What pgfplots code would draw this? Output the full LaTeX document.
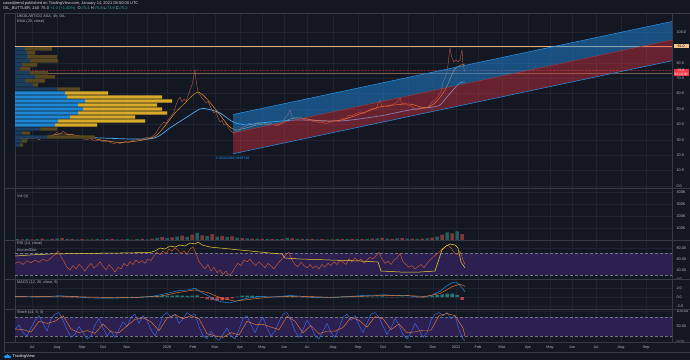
\documentclass[border=0pt]{standalone}
\usepackage{pgfplots}
\pgfplotsset{compat=1.18}
\usepackage{fontspec}
\setmainfont{Liberation Sans}
\definecolor{bg}{HTML}{131722}
\definecolor{gridc}{HTML}{1F2330}
\definecolor{bord}{HTML}{363A45}
\definecolor{txt}{HTML}{B2B5BE}
\definecolor{chblue}{HTML}{2196F3}
\definecolor{chred}{HTML}{F23645}
\definecolor{lnblue}{HTML}{2196F3}
\definecolor{ema}{HTML}{F0962C}
\definecolor{price}{HTML}{C8604A}
\definecolor{vpb}{HTML}{1E88D6}
\definecolor{vpy}{HTML}{D9A928}
\definecolor{vpbd}{HTML}{1B3D5E}
\definecolor{vpyd}{HTML}{564720}
\definecolor{teal}{HTML}{26A69A}
\definecolor{redc}{HTML}{EF5350}
\definecolor{purp}{HTML}{2C2050}
\definecolor{rsi}{HTML}{E0602E}
\definecolor{ad}{HTML}{F2D230}
\definecolor{orline}{HTML}{E3AE78}
\definecolor{orbox}{HTML}{F5C38C}
\definecolor{redbox}{HTML}{F23645}
\definecolor{kblue}{HTML}{3F6AF0}
\definecolor{dorange}{HTML}{F07A30}
\pgfplotsset{
  pane/.style={scale only axis, width=657pt, anchor=south west,
    xmin=15, xmax=672,
    axis line style={draw=bord, line width=0.5pt},
    major tick length=0pt,
    xtick={32,57,82,103,127,147,167,193,215,240,262,284,307,333,358,383,408,433,456,478,502,528,550,572,596,621,646},
    xticklabels={},
    xmajorgrids, ymajorgrids,
    grid style={draw=gridc, line width=0.45pt},
    yticklabel pos=right,
    ticklabel style={text=txt, font=\fontsize{3.8}{4}\selectfont},
    yticklabel style={xshift=1pt},
  },
  ov/.style={scale only axis, width=657pt, anchor=south west, axis lines=none, ticks=none},
}
\begin{document}
\begin{tikzpicture}[x=1pt,y=1pt]
\useasboundingbox (0,0) rectangle (690,360);
\fill[bg] (0,0) rectangle (690,360);

% ---------------- main price pane ----------------
\begin{axis}[pane, at={(15pt,172pt)}, height=175pt, ymin=-1.3, ymax=112.3,
  ytick={0,10,20,30,40,50,60,70,80,90,100},
  yticklabels={0.0,10.0,20.0,30.0,40.0,50.0,60.0,70.0,80.0,90.0,100.0}]
% horizontal lines
\addplot[orline, line width=0.6pt] coordinates {(15,90.9) (672,90.9)};
\addplot[orline!50!bg, line width=0.4pt] coordinates {(15,73.4) (672,73.4)};
\addplot[redbox!45!bg, densely dotted, line width=0.4pt] coordinates {(15,75.3) (672,75.3)};
% blue long EMA
\addplot[lnblue!80!white, line width=0.7pt, smooth] coordinates {(15,31.2) (40,31.6) (67,31.8) (100,31.2) (133,30.5) (155,31.2) (170,37.7) (187,44.8) (200,50.0) (207,50.0) (220,47.4) (233,41.6) (247,39.6) (260,40.9) (300,42.9) (340,42.2) (380,45.5) (410,49.4) (433,51.3) (440,52.6) (447,57.8) (453,62.3) (460,66.9) (465,67.5)};
% price
\addplot[price, line width=0.35pt] coordinates {(15,31.2) (18,32.5) (21,30.5) (24,31.8) (27,30.2) (30,32.0) (33,30.8) (36,31.5) (39,30.0) (42,31.9) (45,31.0) (48,32.6) (51,31.8) (54,33.5) (57,34.8) (60,33.6) (63,35.5) (66,34.2) (69,33.0) (72,33.8) (75,32.4) (78,31.5) (81,32.2) (84,30.4) (87,30.0) (90,30.9) (93,29.6) (96,29.2) (99,30.0) (102,29.0) (105,28.6) (108,29.3) (111,28.0) (114,27.5) (117,28.2) (120,27.6) (123,28.4) (126,28.9) (129,28.3) (132,29.4) (135,29.9) (138,30.4) (141,29.8) (144,31.0) (147,31.6) (150,31.2) (153,32.6) (156,34.4) (159,37.7) (162,40.3) (164,41.6) (166,40.5) (168,42.9) (170,44.5) (172,46.1) (174,48.1) (176,52.6) (178,55.8) (180,57.8) (182,54.5) (184,56.5) (186,55.2) (188,58.4) (190,62.3) (192,65.6) (194,72.1) (195,75.3) (196,68.8) (198,61.0) (200,59.1) (202,57.0) (204,55.8) (206,53.9) (208,54.8) (210,52.0) (212,49.4) (214,47.4) (216,48.5) (218,44.2) (220,41.6) (222,42.5) (224,39.6) (226,40.5) (228,38.3) (230,36.4) (232,35.1) (234,34.2) (236,36.0) (238,35.1) (240,37.0) (243,38.3) (246,39.0) (249,40.9) (252,40.3) (255,39.6) (258,41.6) (261,40.3) (264,41.0) (267,39.6) (270,40.9) (273,40.0) (276,39.0) (279,39.6) (282,41.0) (285,44.2) (288,46.5) (290,49.4) (292,45.0) (295,44.2) (298,43.0) (301,44.2) (304,42.9) (307,42.2) (310,42.9) (313,41.6) (316,42.0) (319,41.0) (322,41.6) (325,40.3) (328,40.9) (331,41.6) (334,42.9) (337,42.2) (340,42.9) (343,44.2) (346,43.5) (349,46.1) (352,45.5) (355,46.8) (358,47.4) (361,48.1) (364,47.0) (367,48.7) (370,49.4) (373,50.6) (376,50.0) (378,53.5) (380,55.8) (382,51.3) (385,51.9) (388,51.3) (391,52.6) (394,53.2) (397,54.5) (400,57.1) (402,53.2) (405,53.9) (408,52.6) (411,51.9) (414,50.6) (417,49.4) (420,50.0) (423,51.3) (426,50.6) (429,51.9) (432,54.5) (435,55.8) (438,58.4) (441,61.0) (443,67.5) (445,70.0) (447,74.0) (448,78.6) (449,84.4) (450,89.6) (451,86.0) (452,83.1) (454,80.5) (456,81.8) (458,80.5) (460,81.8) (461,85.0) (462,88.3) (463,78.6) (464,76.0) (465,74.0)};
% short EMA
\addplot[ema, line width=0.45pt, smooth] coordinates {(15,31.2) (40,31.3) (60,33.8) (80,32.5) (100,30.0) (120,28.3) (140,29.5) (155,32.2) (165,39.0) (175,47.4) (185,53.9) (192,58.4) (198,61.0) (205,57.8) (212,52.6) (220,46.1) (228,39.6) (235,36.4) (245,37.5) (260,40.0) (280,40.3) (290,43.5) (300,44.2) (320,42.2) (340,42.6) (360,46.8) (380,51.3) (395,52.6) (410,53.2) (425,50.8) (435,53.9) (445,62.3) (455,76.0) (465,79.2)};
% regression channel (translucent, drawn over the series)
\addplot[fill=chblue, fill opacity=0.45, draw=none] coordinates {(233,46.4) (672,106.8) (672,94.8) (233,34.4)} -- cycle;
\addplot[fill=chred, fill opacity=0.38, draw=none] coordinates {(233,34.4) (672,94.8) (672,81.3) (233,20.9)} -- cycle;
\addplot[lnblue, line width=0.5pt] coordinates {(233,46.4) (672,106.8)};
\addplot[lnblue, line width=0.5pt] coordinates {(233,20.9) (672,81.3)};
\addplot[redc!70!black, line width=0.4pt] coordinates {(233,34.4) (672,94.8)};
\end{axis}

% volume profile overlay
\begin{axis}[ov, at={(15pt,172pt)}, height=175pt, xmin=0, xmax=657, ymin=-1.3, ymax=112.3,
  xbar stacked, bar width=2.2]
\addplot[fill=vpb, draw=none] coordinates {(0,89.0) (0,86.4) (0,83.8) (0,81.2) (0,78.6) (0,76.0) (0,73.4) (0,70.8) (0,68.2) (0,65.6) (0,63.0) (50,60.4) (52,57.8) (70,55.2) (63,52.6) (68,50.0) (63,47.4) (55,44.8) (43,42.2) (40,39.6) (0,37.0) (0,34.4) (0,31.8) (0,29.2) (0,26.6)};
\addplot[fill=vpy, draw=none] coordinates {(0,89.0) (0,86.4) (0,83.8) (0,81.2) (0,78.6) (0,76.0) (0,73.4) (0,70.8) (0,68.2) (0,65.6) (0,63.0) (43,60.4) (95,57.8) (87,55.2) (79,52.6) (79,50.0) (89,47.4) (65,44.8) (87,42.2) (42,39.6) (0,37.0) (0,34.4) (0,31.8) (0,29.2) (0,26.6)};
\addplot[fill=vpbd, draw=none] coordinates {(10,89.0) (12,86.4) (12,83.8) (15,81.2) (7,78.6) (5,76.0) (15,73.4) (20,70.8) (10,68.2) (18,65.6) (42,63.0) (0,60.4) (0,57.8) (0,55.2) (0,52.6) (0,50.0) (0,47.4) (0,44.8) (0,42.2) (0,39.6) (25,37.0) (7,34.4) (32,31.8) (7,29.2) (5,26.6)};
\addplot[fill=vpyd, draw=none] coordinates {(27,89.0) (8,86.4) (30,83.8) (28,81.2) (15,78.6) (10,76.0) (18,73.4) (20,70.8) (20,68.2) (5,65.6) (23,63.0) (0,60.4) (0,57.8) (0,55.2) (0,52.6) (0,50.0) (0,47.4) (0,44.8) (0,42.2) (0,39.6) (17,37.0) (8,34.4) (48,31.8) (5,29.2) (3,26.6)};
\end{axis}

% ---------------- volume pane ----------------
\begin{axis}[pane, at={(15pt,120pt)}, height=52pt, ymin=0, ymax=433,
  ytick={100,200,300,400}, yticklabels={100K,200K,300K,400K}]
\addplot[ybar, bar width=3.5, bar shift=0pt, fill=teal!50!bg, draw=none] coordinates {(17,8) (27,10) (37,7) (47,6) (57,14) (67,10) (77,6) (87,5) (97,9) (107,7) (117,5) (127,8) (137,7) (147,6) (157,18) (167,16) (177,28) (187,26) (197,60) (207,32) (217,28) (227,24) (237,20) (247,14) (257,11) (267,10) (277,7) (287,16) (297,10) (307,7) (317,6) (327,6) (337,7) (347,9) (357,8) (367,9) (377,14) (387,12) (397,14) (407,12) (417,10) (427,14) (437,28) (447,64) (457,72)};
\addplot[ybar, bar width=3.5, bar shift=0pt, fill=redc!50!bg, draw=none] coordinates {(22,6) (32,5) (42,12) (52,9) (62,16) (72,7) (82,8) (92,6) (102,6) (112,10) (122,6) (132,4) (142,10) (152,12) (162,24) (172,22) (182,36) (192,44) (202,38) (212,48) (222,34) (232,30) (242,16) (252,12) (262,9) (272,8) (282,10) (292,14) (302,8) (312,9) (322,8) (332,6) (342,8) (352,10) (362,7) (372,11) (382,18) (392,10) (402,16) (412,11) (422,12) (432,20) (442,44) (452,56) (462,48)};
\end{axis}

% ---------------- RSI pane ----------------
\begin{axis}[pane, at={(15pt,81pt)}, height=39pt, ymin=23.6, ymax=94.5,
  ytick={40,60,80}, yticklabels={40.00,60.00,80.00}]
\addplot[fill=purp, draw=none] coordinates {(15,30) (672,30) (672,70) (15,70)} -- cycle;
\addplot[txt!60!bg, densely dashed, line width=0.35pt] coordinates {(15,70) (672,70)};
\addplot[txt!60!bg, densely dashed, line width=0.35pt] coordinates {(15,30) (672,30)};
\addplot[rsi, line width=0.4pt] coordinates {(15,52) (19,55) (23,50) (27,57) (31,53) (35,58) (39,54) (43,60) (47,56) (51,62) (55,68) (58,75) (61,64) (64,55) (67,45) (70,40) (73,48) (76,42) (79,50) (82,45) (85,38) (88,46) (91,52) (94,44) (97,48) (100,55) (103,47) (106,40) (109,50) (112,44) (115,36) (118,45) (121,42) (124,52) (127,47) (130,55) (133,50) (136,58) (139,53) (142,57) (145,52) (148,60) (151,57) (154,66) (157,72) (160,68) (163,75) (166,70) (169,78) (172,74) (175,80) (178,76) (181,70) (184,75) (187,68) (190,78) (193,82) (196,70) (199,55) (202,48) (205,42) (208,50) (211,38) (214,45) (217,35) (220,40) (223,32) (226,38) (229,30) (232,35) (235,45) (238,52) (241,48) (244,58) (247,55) (250,60) (253,52) (256,48) (259,55) (262,50) (265,44) (268,52) (271,47) (274,42) (277,50) (280,56) (283,62) (286,68) (289,72) (292,58) (295,50) (298,46) (301,54) (304,48) (307,44) (310,50) (313,43) (316,48) (319,42) (322,50) (325,45) (328,52) (331,48) (334,55) (337,50) (340,58) (343,54) (346,50) (349,60) (352,55) (355,62) (358,56) (361,60) (364,52) (367,58) (370,63) (373,60) (376,66) (379,72) (382,60) (385,52) (388,56) (391,50) (394,58) (397,62) (400,70) (403,55) (406,50) (409,45) (412,48) (415,42) (418,46) (421,50) (424,44) (427,52) (430,58) (433,63) (436,68) (439,72) (442,78) (445,82) (448,85) (451,80) (454,72) (457,68) (460,74) (463,58) (465,50)};
\end{axis}
% A/D overlay with left axis
\begin{axis}[ov, at={(15pt,81pt)}, height=39pt, xmin=15, xmax=672, ymin=-400, ymax=380,
  axis lines*=left, axis line style={draw=none}, ticks=major, xtick=\empty,
  ytick={-400,-200,0,200}, yticklabels={-400K,-200K,0,200K}, major tick length=0pt,
  yticklabel style={text=txt, font=\fontsize{3.3}{4}\selectfont, xshift=1pt}]
\addplot[ad, line width=0.5pt] coordinates {(15,60) (30,80) (50,100) (80,110) (120,120) (150,130) (155,160) (160,220) (165,200) (170,260) (175,240) (180,280) (185,260) (190,320) (195,300) (198,340) (202,280) (210,240) (230,200) (250,160) (270,120) (282,100) (285,20) (300,0) (330,-20) (360,-40) (378,-60) (381,-240) (400,-260) (420,-260) (435,-240) (438,-60) (442,180) (446,260) (450,300) (455,280) (458,220) (461,-60) (465,-180)};
\end{axis}

% ---------------- MACD pane ----------------
\begin{axis}[pane, at={(15pt,51pt)}, height=30pt, ymin=-2.67, ymax=4.05,
  ytick={-2,0,2,4}, yticklabels={-2.0,0.0,2.0,4.0}]
\addplot[ybar, bar width=3.5, bar shift=0pt, fill=teal!70!bg, draw=none] coordinates {(17,0.05) (27,0.06) (32,0.04) (42,0.08) (47,0.1) (52,0.12) (57,0.15) (62,0.1) (117,0.02) (122,0.04) (127,0.06) (132,0.03) (137,0.05) (142,0.08) (147,0.12) (152,0.18) (157,0.25) (162,0.32) (167,0.35) (172,0.3) (177,0.4) (182,0.35) (187,0.25) (192,0.35) (197,0.4) (237,0.1) (242,0.3) (247,0.35) (252,0.3) (257,0.2) (262,0.12) (267,0.05) (272,0.02) (277,0.05) (282,0.12) (287,0.2) (292,0.15) (297,0.05) (332,0.02) (337,0.05) (342,0.08) (347,0.1) (352,0.12) (357,0.1) (362,0.12) (367,0.1) (372,0.08) (377,0.12) (382,0.15) (387,0.05) (397,0.02) (402,0.08) (407,0.02) (427,0.05) (432,0.25) (437,0.45) (442,0.6) (447,0.75) (452,0.8) (457,0.5)};
\addplot[ybar, bar width=3.5, bar shift=0pt, fill=redc!70!bg, draw=none] coordinates {(22,-0.03) (37,-0.05) (67,-0.05) (72,-0.1) (77,-0.12) (82,-0.08) (87,-0.1) (92,-0.06) (97,-0.04) (102,-0.08) (107,-0.05) (112,-0.03) (202,-0.2) (207,-0.5) (212,-0.7) (217,-0.8) (222,-0.75) (227,-0.55) (232,-0.3) (302,-0.05) (307,-0.1) (312,-0.12) (317,-0.1) (322,-0.06) (327,-0.04) (392,-0.05) (412,-0.08) (417,-0.12) (422,-0.1) (462,-0.6)};
\addplot[lnblue, line width=0.45pt] coordinates {(15,0.1) (40,0.05) (60,0.3) (75,0.1) (90,-0.2) (110,-0.25) (130,-0.15) (150,0.1) (160,0.5) (170,1.0) (180,1.5) (188,1.6) (195,2.0) (200,1.2) (208,0.3) (215,-0.6) (222,-1.1) (230,-1.3) (238,-0.8) (248,-0.2) (260,0.1) (275,0.05) (290,0.35) (300,0.2) (315,-0.1) (330,-0.15) (345,0.1) (360,0.3) (375,0.45) (385,0.5) (395,0.35) (405,0.4) (415,0.1) (425,0.0) (432,0.4) (440,1.3) (446,2.4) (452,3.2) (456,3.4) (460,2.6) (463,1.8) (465,1.2)};
\addplot[dorange, line width=0.45pt] coordinates {(15,0.1) (60,0.2) (90,0.0) (130,-0.15) (160,0.2) (180,1.1) (195,1.6) (208,1.0) (222,-0.3) (235,-0.9) (250,-0.5) (270,0.0) (300,0.2) (330,-0.05) (360,0.15) (385,0.4) (405,0.35) (425,0.15) (440,0.8) (452,2.3) (460,2.9) (465,2.4)};
\end{axis}

% ---------------- Stoch pane ----------------
\begin{axis}[pane, at={(15pt,18pt)}, height=33pt, ymin=0, ymax=106.5,
  ytick={0,50,100}, yticklabels={0.00,50.00,100.00},
  xticklabels={Jul,Aug,Sep,Oct,Nov,{},2020,Feb,Mar,Apr,May,Jun,Jul,Aug,Sep,Oct,Nov,Dec,2021,Feb,Mar,Apr,May,Jun,Jul,Aug,Sep},
  xticklabel style={yshift=-0.5pt}]
\addplot[fill=purp, draw=none] coordinates {(15,20) (672,20) (672,80) (15,80)} -- cycle;
\addplot[txt!60!bg, densely dashed, line width=0.35pt] coordinates {(15,80) (672,80)};
\addplot[txt!60!bg, densely dashed, line width=0.35pt] coordinates {(15,20) (672,20)};
\addplot[kblue, line width=0.45pt] coordinates {(15,40) (19,55) (23,30) (27,20) (31,45) (35,70) (39,85) (43,60) (47,35) (51,75) (55,90) (59,95) (63,70) (67,40) (71,15) (75,25) (79,50) (83,30) (87,10) (91,20) (95,55) (99,75) (103,45) (107,20) (111,35) (115,15) (119,40) (123,65) (127,50) (131,80) (135,90) (139,60) (143,85) (147,70) (151,40) (155,20) (159,50) (163,85) (167,95) (171,80) (175,90) (179,60) (183,75) (187,95) (191,85) (195,90) (199,50) (203,20) (207,10) (211,35) (215,15) (219,5) (223,25) (227,45) (231,20) (235,10) (239,40) (243,75) (247,85) (251,55) (255,30) (259,60) (263,80) (267,45) (271,20) (275,35) (279,65) (283,90) (287,95) (291,70) (295,35) (299,15) (303,40) (307,70) (311,50) (315,20) (319,10) (323,35) (327,60) (331,30) (335,15) (339,45) (343,80) (347,90) (351,70) (355,85) (359,55) (363,30) (367,60) (371,90) (375,95) (379,80) (383,50) (387,25) (391,45) (395,75) (399,55) (403,25) (407,10) (411,30) (415,60) (419,40) (423,15) (427,30) (431,70) (435,90) (439,95) (443,85) (447,95) (451,75) (455,85) (459,40) (463,10) (465,5)};
\addplot[dorange, line width=0.45pt] coordinates {(15,42) (23,40) (31,32) (39,67) (47,60) (55,67) (63,85) (71,42) (79,30) (87,37) (95,28) (103,58) (111,33) (119,30) (127,52) (135,73) (143,78) (151,65) (159,37) (167,77) (175,88) (183,75) (191,85) (199,75) (207,27) (215,20) (223,15) (231,30) (239,23) (247,67) (255,57) (263,57) (271,48) (279,40) (287,83) (295,67) (303,30) (311,53) (319,27) (327,35) (335,35) (343,47) (351,80) (359,70) (367,48) (375,82) (383,75) (391,40) (399,58) (407,30) (415,33) (423,38) (431,38) (439,85) (447,92) (455,85) (463,45) (465,18)};
\end{axis}

% pane separators and borders
\draw[bord, line width=0.5pt] (4,347) -- (690,347);
\draw[bord, line width=0.5pt] (4,172) -- (690,172);
\draw[bord, line width=0.5pt] (4,120) -- (690,120);
\draw[bord, line width=0.5pt] (4,81) -- (690,81);
\draw[bord, line width=0.5pt] (4,51) -- (690,51);
\draw[bord, line width=0.5pt] (4,18) -- (690,18);
\draw[bord, line width=0.5pt] (4,8) -- (690,8);
\draw[bord, line width=0.5pt] (4,8) -- (4,347);

% price label boxes
\node[fill=orbox, text=black, font=\fontsize{3.6}{4}\selectfont, inner sep=0.8pt, minimum width=15pt] at (681,314) {91.0};
\node[fill=redbox, text=white, font=\fontsize{3.4}{3.8}\selectfont, inner sep=0.8pt, minimum width=15pt, align=center] at (681,287.5) {75.0\\03:10:00};

% texts
\node[anchor=west, text=white!85!bg, font=\fontsize{4}{4.5}\selectfont, inner sep=0pt] at (3,356.5) {casadjtrend published on TradingView.com, January 14, 2021 08:50:00 UTC};
\node[anchor=west, text=white!85!bg, font=\fontsize{4}{4.5}\selectfont, inner sep=0pt] at (3,351.5) {OIL\_BUTTLER, 240\ \ 75.0 \textcolor{teal}{+1.0 (+1.40\%)}\ \ O:\textcolor{teal}{75.4} H:\textcolor{teal}{75.8} L:\textcolor{teal}{73.8} C:\textcolor{teal}{75.0}};
\node[anchor=west, text=txt, font=\fontsize{3.8}{4}\selectfont, inner sep=0pt] at (17,344) {UKOIL/WTICO ASA, 4h, OIL};
\node[anchor=west, text=txt, font=\fontsize{3.8}{4}\selectfont, inner sep=0pt] at (17,338) {EMA (20, close)};
\node[anchor=west, text=txt, font=\fontsize{3.8}{4}\selectfont, inner sep=0pt] at (17,163) {Vol (4)};
\node[anchor=west, text=txt, font=\fontsize{3.8}{4}\selectfont, inner sep=0pt] at (17,116) {RSI (14, close)};
\node[anchor=west, text=txt, font=\fontsize{3.8}{4}\selectfont, inner sep=0pt] at (17,110) {Accum/Dist};
\node[anchor=west, text=txt, font=\fontsize{3.8}{4}\selectfont, inner sep=0pt] at (17,77) {MACD (12, 26, close, 9)};
\node[anchor=west, text=txt, font=\fontsize{3.8}{4}\selectfont, inner sep=0pt] at (17,47) {Stoch (14, 3, 3)};
\node[anchor=west, text=lnblue, font=\fontsize{3.4}{4}\selectfont, inner sep=0pt] at (216,202) {0.9032228874626748};
% footer
\fill[lnblue] (5.5,3.2) circle (1.6) (7.6,4.0) circle (1.9) (9.8,3.2) circle (1.5);
\fill[lnblue] (5.5,1.6) rectangle (9.8,3.2);
\node[anchor=west, text=white, font=\fontsize{4}{4.5}\selectfont, inner sep=0pt] at (12.5,3.2) {TradingView};
\end{tikzpicture}
\end{document}
